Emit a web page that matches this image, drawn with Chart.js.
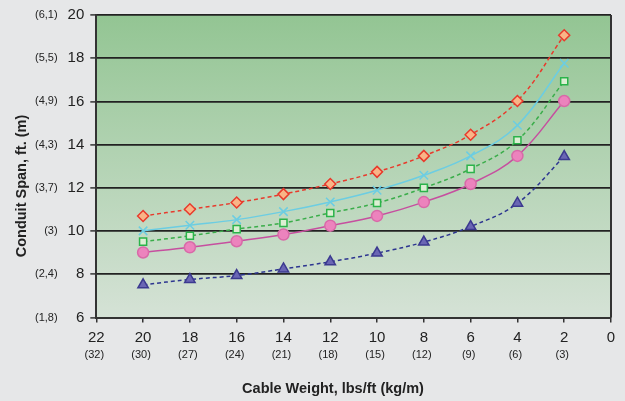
<!DOCTYPE html>
<html>
<head>
<meta charset="utf-8">
<script src="https://cdn.jsdelivr.net/npm/chart.js@4.4.0/dist/chart.umd.min.js"></script>
<style>
  html, body { margin: 0; padding: 0; background: #e6e7e8; }
  #wrap { width: 625px; height: 401px; position: relative; }
</style>
</head>
<body>
<div id="wrap"><canvas id="c" width="625" height="401"></canvas></div>
<script>
// Cable weight, lbs/ft
const weights = [20, 18, 16, 14, 12, 10, 8, 6, 4, 2];
// Conduit span, ft, per curve
const seriesRed    = [10.70, 11.01, 11.32, 11.71, 12.18, 12.74, 13.48, 14.46, 16.02, 19.06];
const seriesCyan   = [10.01, 10.27, 10.53, 10.90, 11.35, 11.89, 12.58, 13.48, 14.90, 17.77];
const seriesGreen  = [9.51, 9.78, 10.09, 10.38, 10.84, 11.30, 12.00, 12.88, 14.20, 16.93];
const seriesPink   = [9.01, 9.25, 9.53, 9.84, 10.25, 10.70, 11.34, 12.18, 13.48, 16.02];
const seriesBlue   = [7.51, 7.76, 7.94, 8.25, 8.58, 8.98, 9.49, 10.21, 11.29, 13.45];
// Metric tick labels
const xMetricTicks  = [22, 20, 18, 16, 14, 12, 10, 8, 6, 4, 2];
const xMetricLabels = ['(32)', '(30)', '(27)', '(24)', '(21)', '(18)', '(15)', '(12)', '(9)', '(6)', '(3)'];
const yMetricLabels = { 6: '(1,8)', 8: '(2,4)', 10: '(3)', 12: '(3,7)', 14: '(4,3)', 16: '(4,9)', 18: '(5,5)', 20: '(6,1)' };
const xTitle = 'Cable Weight, lbs/ft (kg/m)';
const yTitle = 'Conduit Span, ft. (m)';

const FONT = 'Liberation Sans, Arial, sans-serif';
const pts = arr => weights.map((w, i) => ({ x: w, y: arr[i] }));

const bgPlugin = {
  id: 'plotBg',
  beforeDraw(chart) {
    const { ctx, chartArea: a } = chart;
    ctx.save();
    const g = ctx.createLinearGradient(0, a.top, 0, a.bottom);
    g.addColorStop(0, '#93c593');
    g.addColorStop(1, '#d5e2d6');
    ctx.fillStyle = g;
    ctx.fillRect(a.left, a.top, a.right - a.left, a.bottom - a.top);
    ctx.restore();
  },
  beforeDatasetsDraw(chart) {
    const { ctx, chartArea: a } = chart;
    ctx.save();
    ctx.strokeStyle = '#333';
    ctx.lineWidth = 2;
    ctx.beginPath();
    ctx.moveTo(a.right, a.top);
    ctx.lineTo(a.right, a.bottom);
    ctx.stroke();
    ctx.restore();
  },
  afterDraw(chart) {
    const { ctx, chartArea: a } = chart;
    const xs = chart.scales.x;
    ctx.save();
    ctx.fillStyle = '#222';
    ctx.textAlign = 'center';
    ctx.textBaseline = 'middle';
    ctx.font = '11px ' + FONT;
    xMetricTicks.forEach((v, i) => {
      ctx.fillText(xMetricLabels[i], xs.getPixelForValue(v) - 2, a.bottom + 37);
    });
    ctx.font = 'bold 14.5px ' + FONT;
    ctx.fillText(xTitle, 333, 389);
    ctx.translate(22, 186);
    ctx.rotate(-Math.PI / 2);
    ctx.fillText(yTitle, 0, 0);
    ctx.restore();
  }
};

const base = { tension: 0.4, borderWidth: 1.5, pointBorderWidth: 1.5, pointHoverRadius: 5 };

new Chart(document.getElementById('c'), {
  type: 'line',
  data: {
    datasets: [
      Object.assign({}, base, {
        label: 'Red', data: pts(seriesRed), borderColor: '#e83a2c', borderDash: [4, 3],
        pointStyle: 'rectRot', pointRadius: 5.5, pointBackgroundColor: '#f9b487', pointBorderColor: '#e83a2c'
      }),
      Object.assign({}, base, {
        label: 'Cyan', data: pts(seriesCyan), borderColor: '#6ccde2',
        pointStyle: 'crossRot', pointRadius: 6, pointBorderColor: '#6ccde2', pointBorderWidth: 1.5
      }),
      Object.assign({}, base, {
        label: 'Green', data: pts(seriesGreen), borderColor: '#3aad4a', borderDash: [4, 3],
        pointStyle: 'rect', pointRadius: 5, pointBackgroundColor: '#dcefd3', pointBorderColor: '#2bb34a'
      }),
      Object.assign({}, base, {
        label: 'Pink', data: pts(seriesPink), borderColor: '#c64f9f',
        pointStyle: 'circle', pointRadius: 5.5, pointBackgroundColor: '#ec83bd', pointBorderColor: '#d86aa8'
      }),
      Object.assign({}, base, {
        label: 'Blue', data: pts(seriesBlue), borderColor: '#2d3590', borderDash: [4, 3],
        pointStyle: 'triangle', pointRadius: 6, pointBackgroundColor: '#6a66b4', pointBorderColor: '#3c3a90'
      })
    ]
  },
  options: {
    responsive: false,
    animation: false,
    layout: { padding: { top: 4, right: 14, left: 31, bottom: 47 } },
    plugins: {
      legend: { display: false },
      tooltip: { enabled: false },
      title: { display: false }
    },
    scales: {
      x: {
        type: 'linear', position: 'bottom', reverse: true, min: 0, max: 22,
        ticks: { stepSize: 2, color: '#222', padding: 9, font: { family: FONT, size: 15, lineHeight: 0.9 } },
        grid: { drawOnChartArea: false, drawTicks: true, tickLength: 5, color: '#333', lineWidth: 1.5 },
        border: { display: true, color: '#333', width: 2 }
      },
      y: {
        type: 'linear', position: 'left', min: 6, max: 20, weight: 0,
        ticks: { stepSize: 2, color: '#222', padding: 6, font: { family: FONT, size: 15 } },
        grid: { color: '#222', lineWidth: 1.8, tickLength: 6, tickColor: '#333', tickWidth: 1.5 },
        border: { display: true, color: '#333', width: 2 }
      },
      y2: {
        type: 'linear', position: 'left', min: 6, max: 20, weight: 1,
        ticks: { stepSize: 2, color: '#222', padding: 4, font: { family: FONT, size: 11 },
          callback: v => yMetricLabels[v] !== undefined ? yMetricLabels[v] : '' },
        grid: { display: false, drawTicks: false },
        border: { display: false }
      }
    }
  },
  plugins: [bgPlugin]
});
</script>
</body>
</html>
